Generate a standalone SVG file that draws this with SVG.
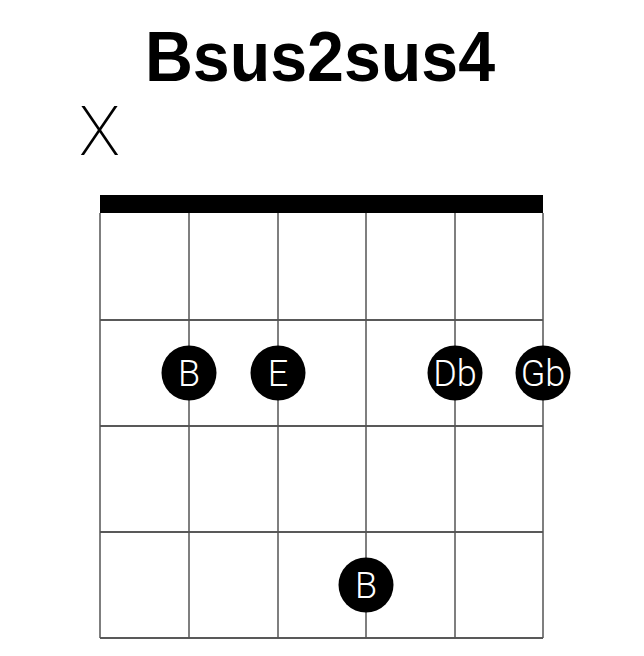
<svg xmlns="http://www.w3.org/2000/svg" width="644" height="656" viewBox="0 0 644 656">
<style>
.title{font-family:"Liberation Sans",Arial,sans-serif;font-weight:bold;font-size:70px;fill:#000}
.mute{font-family:Roboto,"Liberation Sans",sans-serif;font-weight:200;font-size:68px;fill:#000}
.str{stroke:#555;stroke-width:1.5}
.fret{stroke:#222;stroke-width:1.5}
.dot{fill:#000}
.lbl{font-family:Roboto,"Liberation Sans",sans-serif;font-weight:300;font-size:36px;fill:#fff;text-anchor:middle}
</style>
<rect width="644" height="656" fill="#fff"/>
<text class="title" x="145" y="81" textLength="350" lengthAdjust="spacingAndGlyphs">Bsus2sus4</text>
<text class="mute" x="79" y="155" textLength="41" lengthAdjust="spacingAndGlyphs">X</text>
<g id="grid">
<rect x="100" y="195" width="443" height="18" fill="#000"/>
<line class="fret" x1="100" y1="320" x2="543" y2="320"/>
<line class="fret" x1="100" y1="426" x2="543" y2="426"/>
<line class="fret" x1="100" y1="532" x2="543" y2="532"/>
<line class="fret" x1="100" y1="638" x2="543" y2="638"/>
<line class="str" x1="100" y1="213" x2="100" y2="638"/>
<line class="str" x1="189" y1="213" x2="189" y2="638"/>
<line class="str" x1="278" y1="213" x2="278" y2="638"/>
<line class="str" x1="366" y1="213" x2="366" y2="638"/>
<line class="str" x1="455" y1="213" x2="455" y2="638"/>
<line class="str" x1="543" y1="213" x2="543" y2="638"/>
</g>
<g id="n1"><circle class="dot" cx="189" cy="373" r="27.5"/><text class="lbl" x="189" y="386">B</text></g>
<g id="n2"><circle class="dot" cx="278" cy="373" r="27.5"/><text class="lbl" x="278" y="386">E</text></g>
<g id="n3"><circle class="dot" cx="455" cy="373" r="27.5"/><text class="lbl" x="455" y="386">Db</text></g>
<g id="n4"><circle class="dot" cx="543" cy="373" r="27.5"/><text class="lbl" x="543" y="386">Gb</text></g>
<g id="n5"><circle class="dot" cx="366" cy="585" r="27.5"/><text class="lbl" x="366" y="598">B</text></g>
</svg>
